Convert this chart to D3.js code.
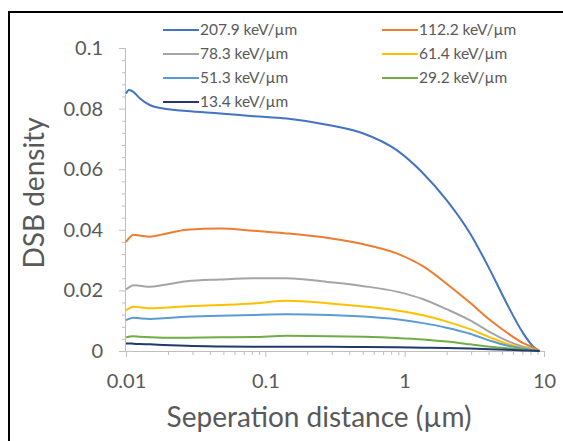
<!DOCTYPE html>
<html><head><meta charset="utf-8">
<script src="https://cdn.jsdelivr.net/npm/d3@7"></script>
<style>
html,body{margin:0;padding:0;background:#fff;}
svg{display:block;font-family:Lato,"Open Sans",sans-serif;}
</style></head>
<body>
<svg id="chart" width="563" height="441"></svg>
<script>
const xs = [0.01,0.0105,0.0113,0.0126,0.0149,0.0185,0.0273,0.0473,0.082,0.1425,0.29,0.506,0.877,1.36,2.0,2.95,4.1,5.4,7.1,8.4,9.3];
const let207 = [0.0850,0.0861,0.0855,0.0833,0.0811,0.0800,0.0792,0.0784,0.0775,0.0767,0.0745,0.0718,0.0663,0.0586,0.0498,0.0388,0.0267,0.0157,0.0058,0.0014,0];
const let112 = [0.0360,0.0372,0.0384,0.0381,0.0377,0.0385,0.0400,0.0404,0.0397,0.0388,0.0372,0.0352,0.0322,0.0279,0.0222,0.0159,0.0102,0.0061,0.0026,0.0011,0];
const let78  = [0.0203,0.0210,0.0217,0.0215,0.0212,0.0218,0.0230,0.0236,0.0240,0.0240,0.0227,0.0214,0.0196,0.0171,0.0138,0.0101,0.0062,0.0034,0.0014,0.0006,0];
const let61  = [0.0135,0.0140,0.0146,0.0144,0.0141,0.0143,0.0148,0.0152,0.0157,0.0166,0.0157,0.0147,0.0134,0.0118,0.0097,0.0072,0.0045,0.0024,0.0010,0.0004,0];
const let51  = [0.0102,0.0106,0.0110,0.0108,0.0106,0.0108,0.0113,0.0116,0.0119,0.0121,0.0119,0.0114,0.0105,0.0092,0.0077,0.0057,0.0034,0.0018,0.0008,0.0003,0];
const let29  = [0.0045,0.0047,0.0049,0.0047,0.0045,0.0044,0.0044,0.0045,0.0046,0.0050,0.0049,0.0047,0.0043,0.0038,0.0031,0.0022,0.0014,0.0009,0.0005,0.0002,0];
const let13  = [0.0025,0.0025,0.0024,0.0023,0.0022,0.0020,0.0017,0.0015,0.0014,0.0014,0.0014,0.0013,0.0012,0.0011,0.0010,0.0008,0.0006,0.0004,0.0002,0.0001,0];
const seriesNames = ["207.9 keV/µm","112.2 keV/µm","78.3 keV/µm","61.4 keV/µm","51.3 keV/µm","29.2 keV/µm","13.4 keV/µm"];
const seriesValues = [let207,let112,let78,let61,let51,let29,let13];
const seriesColors = ["#4472C4","#ED7D31","#A5A5A5","#FFC000","#5B9BD5","#70AD47","#22386E"];
const xTicks = [0.01,0.1,1,10];
const xTickLabels = ["0.01","0.1","1","10"];
const yTicks = [0,0.02,0.04,0.06,0.08,0.1];
const yTickLabels = ["0","0.02","0.04","0.06","0.08","0.1"];

const svg = d3.select("#chart");
const x = d3.scaleLog().domain([0.01,10]).range([126,544]);
const y = d3.scaleLinear().domain([0,0.1]).range([351,48]);
const txt = "#595959", axc = "#BFBFBF";

// frame
svg.append("line").attr("x1",9).attr("x2",9).attr("y1",11).attr("y2",441).attr("stroke","#000").attr("stroke-width",2);
svg.append("line").attr("x1",8).attr("x2",563).attr("y1",12).attr("y2",12).attr("stroke","#000").attr("stroke-width",2);

// y axis
const yMinor = d3.range(0,0.1001,0.004).filter(v=>Math.abs(v/0.02-Math.round(v/0.02))>1e-6);
const gy = svg.append("g").attr("transform","translate(125,0)");
gy.call(d3.axisLeft(y).tickValues(yTicks).tickSize(6).tickFormat((d,i)=>yTickLabels[i]).tickPadding(16));
gy.append("g").call(d3.axisLeft(y).tickValues(yMinor).tickSize(3).tickFormat(""));
gy.selectAll(".domain").attr("stroke",axc);
gy.selectAll(".tick line").attr("stroke",axc);
gy.selectAll(".tick text").attr("fill",txt).style("font-size","20px").style("font-family","Lato");

// x axis
const xMinor = [];
[0.01,0.1,1].forEach(d=>{for(let k=2;k<=9;k++) xMinor.push(d*k);});
const gx = svg.append("g").attr("transform","translate(0,351)");
gx.call(d3.axisBottom(x).tickValues(xTicks).tickSize(6).tickFormat((d,i)=>xTickLabels[i]).tickPadding(17));
gx.append("g").call(d3.axisBottom(x).tickValues(xMinor).tickSize(4).tickFormat(""));
gx.selectAll(".domain").attr("stroke",axc);
gx.selectAll(".tick line").attr("stroke",axc);
gx.selectAll(".tick text").attr("fill",txt).style("font-size","20px").style("font-family","Lato");

// series
const line = d3.line().x(d=>x(d[0])).y(d=>y(d[1])).curve(d3.curveMonotoneX);
seriesValues.forEach((vals,i)=>{
  svg.append("path").datum(xs.map((xv,j)=>[xv,vals[j]]))
    .attr("d",line).attr("fill","none").attr("stroke",seriesColors[i]).attr("stroke-width",2);
});

// axis titles
svg.append("text").attr("x",319).attr("y",427).attr("text-anchor","middle")
  .attr("fill",txt).style("font-size","28px").text("Seperation distance (µm)");
svg.append("text").attr("transform","translate(44,193) rotate(-90)").attr("text-anchor","middle")
  .attr("fill",txt).style("font-size","28px").text("DSB density");

// legend
const legX = [163,382], legY = [30,54,78,102];
seriesNames.forEach((n,i)=>{
  const col = i%2, row = Math.floor(i/2);
  const lx = legX[col], ly = legY[row];
  svg.append("line").attr("x1",lx).attr("x2",lx+36).attr("y1",ly).attr("y2",ly)
    .attr("stroke",seriesColors[i]).attr("stroke-width",2);
  svg.append("text").attr("x",lx+37).attr("y",ly+5).attr("fill",txt)
    .style("font-size","15.5px").text(n);
});
</script>
</body></html>
